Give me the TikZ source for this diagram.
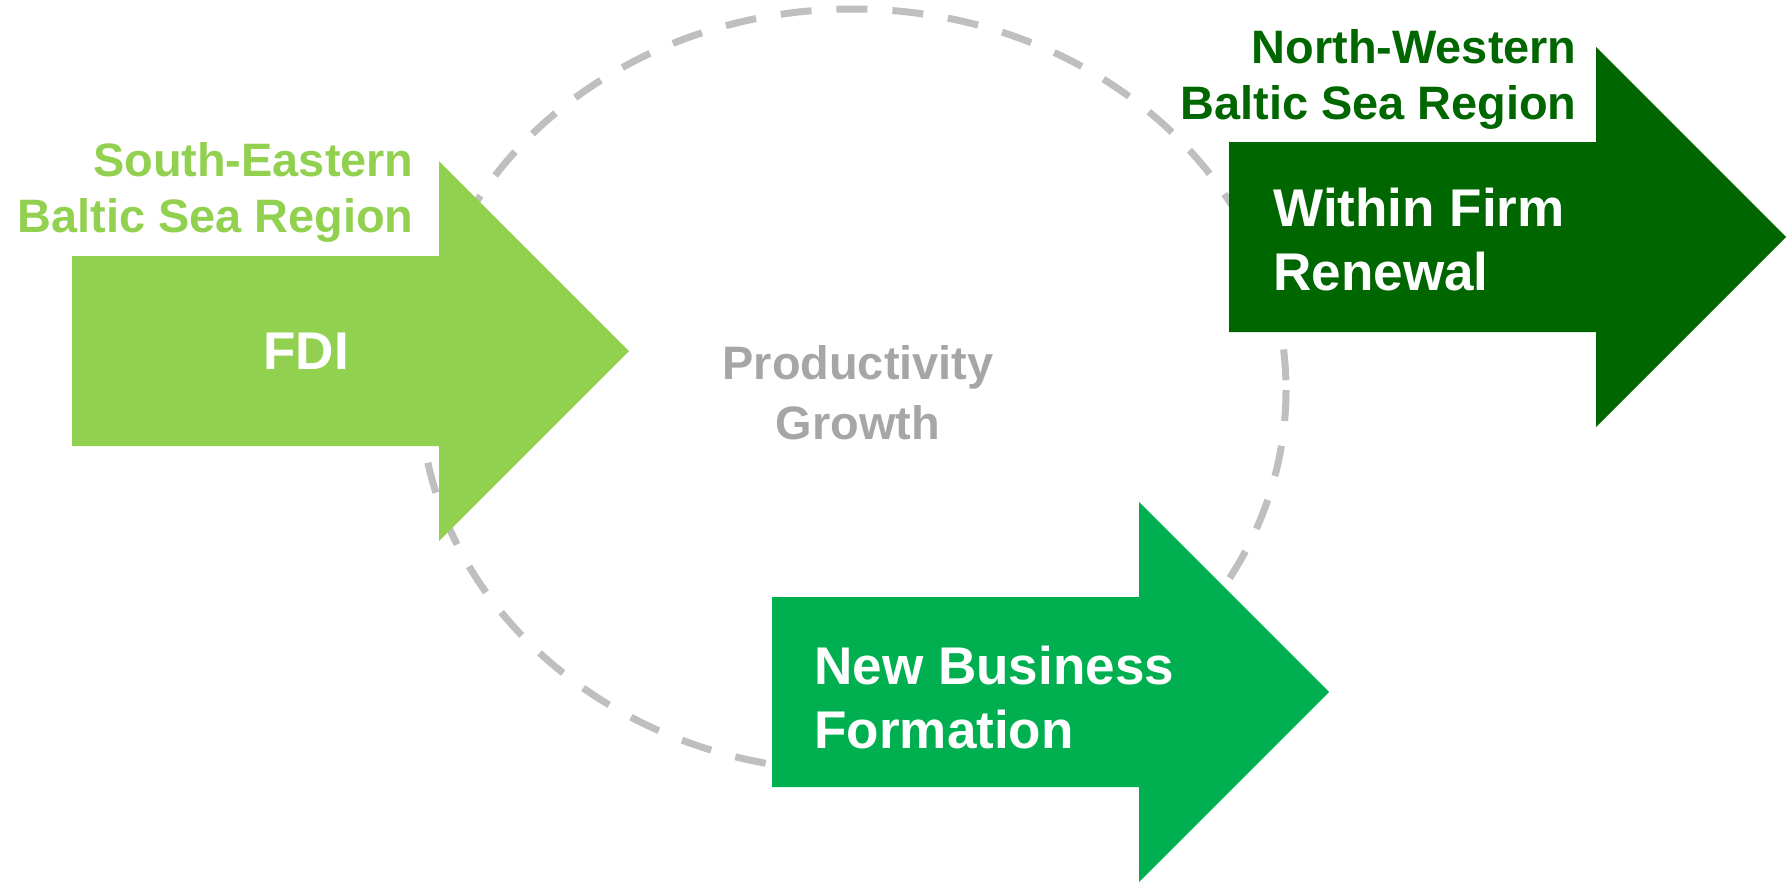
\documentclass[tikz,border=0pt]{standalone}
\usepackage{fontspec}
\setmainfont{Liberation Sans}
\usepackage{xcolor}
\definecolor{segreen}{HTML}{92D050}
\definecolor{nwgreen}{HTML}{006600}
\definecolor{nbgreen}{HTML}{00B050}
\definecolor{ringgrey}{HTML}{BFBFBF}
\definecolor{textgrey}{HTML}{A6A6A6}

\begin{document}
\begin{tikzpicture}[x=0.02cm, y=-0.02cm,
    ring/.style={draw=ringgrey, line width=0.14cm, dash pattern=on 0.62cm off 0.5cm},
    region/.style={inner sep=0pt, align=right, font=\fontsize{26.7}{32.1}\selectfont\bfseries},
    inlabel/.style={inner sep=0pt, align=left, text=white, font=\fontsize{30.2}{36.4}\selectfont\bfseries}]
\useasboundingbox (0,0) rectangle (1791,887);

% growth cycle
\draw[ring] (853,390) ellipse [x radius=433, y radius=381];
\node[inner sep=0pt, align=center, text=textgrey,
      font=\fontsize{26.7}{34.1}\selectfont\bfseries] (growth) at (858,393) {Productivity\\Growth};

% arrows
\foreach \xa/\ya/\col in {72/351/segreen, 772/692/nbgreen, 1229/237/nwgreen}
  \fill[\col] (\xa,\ya-95) -- ++(367,0) -- ++(0,-95) -- ++(190,190)
     -- ++(-190,190) -- ++(0,-95) -- ++(-367,0) -- cycle;

% labels
\node[region, text=segreen, anchor=north east] (se) at (414,142) {South-Eastern\\Baltic Sea Region};
\node[region, text=nwgreen, anchor=north east] (nw) at (1577,29) {North-Western\\Baltic Sea Region};
\node[inlabel, anchor=north west] (fdi) at (263,333) {FDI};
\node[inlabel, anchor=north west] (wfr) at (1273,188) {Within Firm\\Renewal};
\node[inlabel, anchor=north west] (nbf) at (814,646) {New Business\\Formation};
\end{tikzpicture}
\end{document}
